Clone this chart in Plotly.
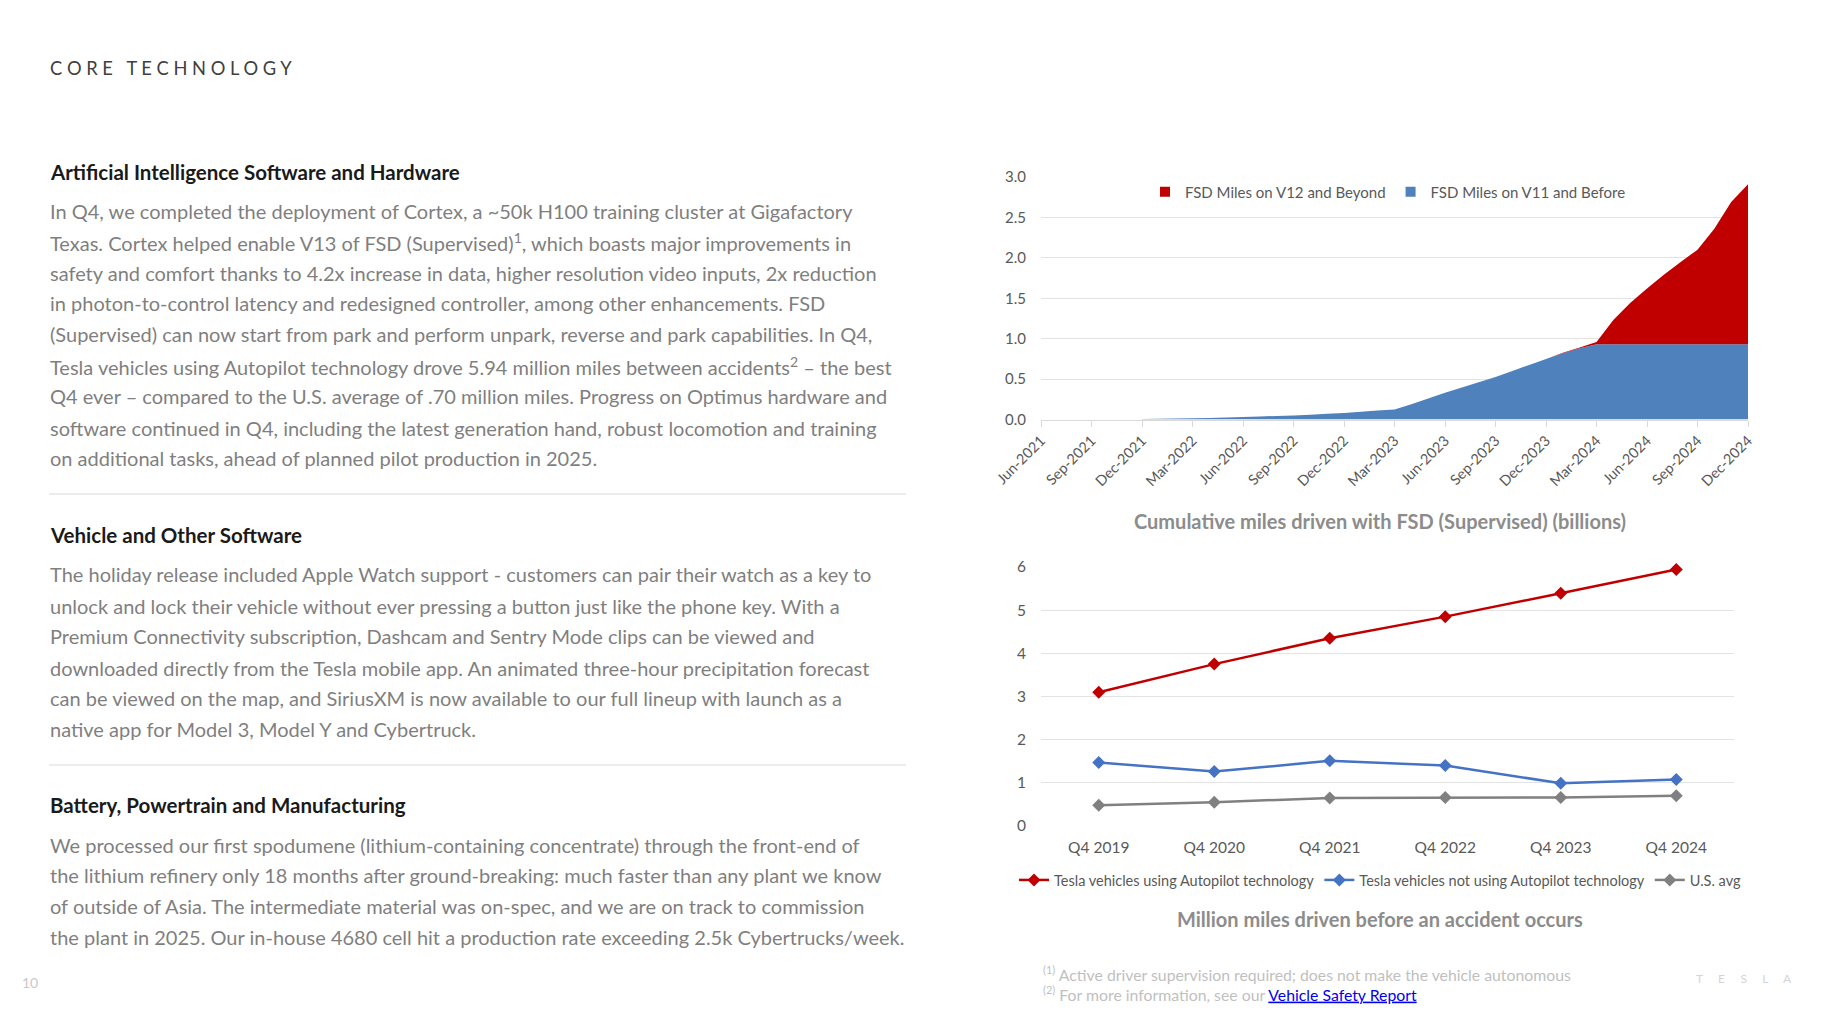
import plotly.graph_objects as go
import pandas as pd

W, H = 1827, 1011
FONT = "Lato"
TICK = "#595959"
BODY = "#7F7F7F"
GRID = "#E3E3E3"

# ---------------- data ----------------
months_all = [d.strftime("%b-%Y") for d in pd.date_range("2021-06-01", "2024-12-01", freq="MS")]
fsd_months = months_all[6:]  # Dec-2021 .. Dec-2024
v11_before = [0.005, 0.008, 0.012, 0.016, 0.02, 0.025, 0.03, 0.037, 0.044, 0.05, 0.06, 0.07,
              0.08, 0.095, 0.11, 0.125, 0.19, 0.26, 0.33, 0.395, 0.46, 0.525, 0.60, 0.675,
              0.75, 0.82, 0.88, 0.93, 0.93, 0.93, 0.93, 0.93, 0.93, 0.93, 0.93, 0.93, 0.93]
v12_beyond = [0, 0, 0, 0, 0, 0, 0, 0, 0, 0, 0, 0,
              0, 0, 0, 0, 0, 0, 0, 0, 0, 0, 0, 0,
              0, 0.005, 0.01, 0.03, 0.30, 0.51, 0.69, 0.86, 1.02, 1.17, 1.43, 1.76, 1.98]

quarters = ["Q4 2019", "Q4 2020", "Q4 2021", "Q4 2022", "Q4 2023", "Q4 2024"]
autopilot = [3.10, 3.75, 4.35, 4.85, 5.39, 5.94]
no_autopilot = [1.47, 1.26, 1.51, 1.40, 0.99, 1.08]
us_avg = [0.48, 0.55, 0.65, 0.66, 0.66, 0.70]

section_titles = ["Artificial Intelligence Software and Hardware",
                  "Vehicle and Other Software",
                  "Battery, Powertrain and Manufacturing"]
para1 = [
    "In Q4, we completed the deployment of Cortex, a ~50k H100 training cluster at Gigafactory",
    "Texas. Cortex helped enable V13 of FSD (Supervised)<sup>1</sup>, which boasts major improvements in",
    "safety and comfort thanks to 4.2x increase in data, higher resolution video inputs, 2x reduction",
    "in photon-to-control latency and redesigned controller, among other enhancements. FSD",
    "(Supervised) can now start from park and perform unpark, reverse and park capabilities. In Q4,",
    "Tesla vehicles using Autopilot technology drove 5.94 million miles between accidents<sup>2</sup> – the best",
    "Q4 ever – compared to the U.S. average of .70 million miles. Progress on Optimus hardware and",
    "software continued in Q4, including the latest generation hand, robust locomotion and training",
    "on additional tasks, ahead of planned pilot production in 2025.",
]
para2 = [
    "The holiday release included Apple Watch support - customers can pair their watch as a key to",
    "unlock and lock their vehicle without ever pressing a button just like the phone key. With a",
    "Premium Connectivity subscription, Dashcam and Sentry Mode clips can be viewed and",
    "downloaded directly from the Tesla mobile app. An animated three-hour precipitation forecast",
    "can be viewed on the map, and SiriusXM is now available to our full lineup with launch as a",
    "native app for Model 3, Model Y and Cybertruck.",
]
para3 = [
    "We processed our first spodumene (lithium-containing concentrate) through the front-end of",
    "the lithium refinery only 18 months after ground-breaking: much faster than any plant we know",
    "of outside of Asia. The intermediate material was on-spec, and we are on track to commission",
    "the plant in 2025. Our in-house 4680 cell hit a production rate exceeding 2.5k Cybertrucks/week.",
]

FSD_BLUE = "#4F81BD"
FSD_RED = "#C00000"

# ---------------- figure ----------------
fig = go.Figure()

fig.add_trace(go.Scatter(x=fsd_months, y=v11_before, name="FSD Miles on V11 and Before",
                         stackgroup="fsd", mode="none", fillcolor=FSD_BLUE,
                         xaxis="x", yaxis="y", showlegend=False))
fig.add_trace(go.Scatter(x=fsd_months, y=v12_beyond, name="FSD Miles on V12 and Beyond",
                         stackgroup="fsd", mode="none", fillcolor=FSD_RED,
                         xaxis="x", yaxis="y", showlegend=False))
# square legend swatches (legend entries only)
for name, col in [("FSD Miles on V12 and Beyond", FSD_RED), ("FSD Miles on V11 and Before", FSD_BLUE)]:
    fig.add_trace(go.Scatter(x=[None], y=[None], name=name, mode="markers",
                             marker=dict(symbol="square", size=10, color=col),
                             xaxis="x", yaxis="y", legend="legend"))

for name, vals, col in [("Tesla vehicles using Autopilot technology", autopilot, "#C00000"),
                        ("Tesla vehicles not using Autopilot technology", no_autopilot, "#4472C4"),
                        ("U.S. avg", us_avg, "#808080")]:
    fig.add_trace(go.Scatter(x=quarters, y=vals, name=name, mode="lines+markers",
                             line=dict(color=col, width=2.5),
                             marker=dict(symbol="diamond", size=10, color=col),
                             cliponaxis=False,
                             xaxis="x2", yaxis="y2", legend="legend2"))

def px_x(x):
    return x / W

def px_y(y):
    return 1 - y / H

annotations = []

def ann(text, x, y, size, color, bold=False, xanchor="left"):
    annotations.append(dict(text=f"<b>{text}</b>" if bold else text,
                            x=px_x(x), y=px_y(y), xref="paper", yref="paper",
                            xanchor=xanchor, yanchor="middle", showarrow=False,
                            font=dict(family=FONT, size=size, color=color)))

LX = 48
BS = 20
HS = 20.5
ann("C O R E   T E C H N O L O G Y", LX, 68, 18.3, "#404040")

ann(section_titles[0], LX, 172, HS, "#1A1A1A", bold=True)
ys1 = [211, 242, 273, 303, 334, 366, 396, 427.5, 458]
for t, y in zip(para1, ys1):
    ann(t, LX, y, BS, BODY)

ann(section_titles[1], LX, 535, HS, "#1A1A1A", bold=True)
ys2 = [574, 606, 636, 667.5, 698, 729]
for t, y in zip(para2, ys2):
    ann(t, LX, y, BS, BODY)

ann(section_titles[2], LX, 805, HS, "#1A1A1A", bold=True)
ys3 = [845, 875, 906, 937]
for t, y in zip(para3, ys3):
    ann(t, LX, y, BS, BODY)

ann("Cumulative miles driven with FSD (Supervised) (billions)", 1380, 521, 20, "#8C8C8C", bold=True, xanchor="center")
ann("Million miles driven before an accident occurs", 1380, 919, 20, "#8C8C8C", bold=True, xanchor="center")

ann("<sup>(1)</sup> Active driver supervision required; does not make the vehicle autonomous", 1041, 973, 15.8, "#BFBFBF")
ann("<sup>(2)</sup> For more information, see our "
    "<a href=\"https://www.tesla.com/VehicleSafetyReport\" style=\"color:#0000EE;text-decoration:underline\">Vehicle Safety Report</a>",
    1041, 993, 15.8, "#BFBFBF")
ann("10", 20, 982, 14, "#C8C8C8")
ann("T     E     S     L     A", 1744, 978, 12, "#D4D4D4", xanchor="center")

shapes = []
for yy in [494, 765]:
    shapes.append(dict(type="line", xref="paper", yref="paper",
                       x0=px_x(49), x1=px_x(906), y0=px_y(yy), y1=px_y(yy),
                       line=dict(color="#D9D9D9", width=1)))

fig.update_layout(
    width=W, height=H, margin=dict(l=0, r=0, t=0, b=0, autoexpand=False),
    paper_bgcolor="white", plot_bgcolor="white",
    font=dict(family=FONT, color=TICK),
    annotations=annotations, shapes=shapes,
    xaxis=dict(domain=[px_x(1041), px_x(1748)], anchor="y", type="category",
               categoryorder="array", categoryarray=months_all, range=[0, len(months_all) - 1],
               tickmode="array", tickvals=months_all[::3], ticktext=months_all[::3],
               tickangle=-45, tickfont=dict(size=14.5, color=TICK),
               showgrid=False, showline=True, linecolor="#D9D9D9",
               ticks="outside", ticklen=6, tickcolor="#D9D9D9", zeroline=False, automargin=False),
    yaxis=dict(domain=[px_y(419.5), px_y(177)], anchor="x", range=[0, 3],
               tickvals=[0, 0.5, 1, 1.5, 2, 2.5, 3],
               tickformat=".1f", tickfont=dict(size=15, color=TICK), gridcolor=GRID,
               showline=False, zeroline=False, ticklabelstandoff=14, automargin=False),
    xaxis2=dict(domain=[px_x(1041), px_x(1734)], anchor="y2", type="category", range=[-0.5, 5.5],
                showgrid=False, showline=False, ticks="", tickfont=dict(size=15.5, color=TICK),
                ticklabelstandoff=10, zeroline=False, automargin=False),
    yaxis2=dict(domain=[px_y(826), px_y(567)], anchor="x2", range=[0, 6], dtick=1,
                tickfont=dict(size=15.5, color=TICK), gridcolor=GRID,
                showline=False, zeroline=False, ticklabelstandoff=14, automargin=False),
    legend=dict(orientation="h", x=px_x(1388), y=px_y(192), xanchor="center", yanchor="middle",
                traceorder="normal",
                font=dict(size=15, color=TICK), bgcolor="rgba(0,0,0,0)", itemwidth=30),
    legend2=dict(orientation="h", x=px_x(1380), y=px_y(880), xanchor="center", yanchor="middle",
                 traceorder="normal",
                 font=dict(size=14.5, color=TICK), bgcolor="rgba(0,0,0,0)", itemwidth=30),
)

fig.write_html("out.html", config={"displayModeBar": False},
               post_script="document.body.style.margin='0';document.body.style.overflow='hidden';")
